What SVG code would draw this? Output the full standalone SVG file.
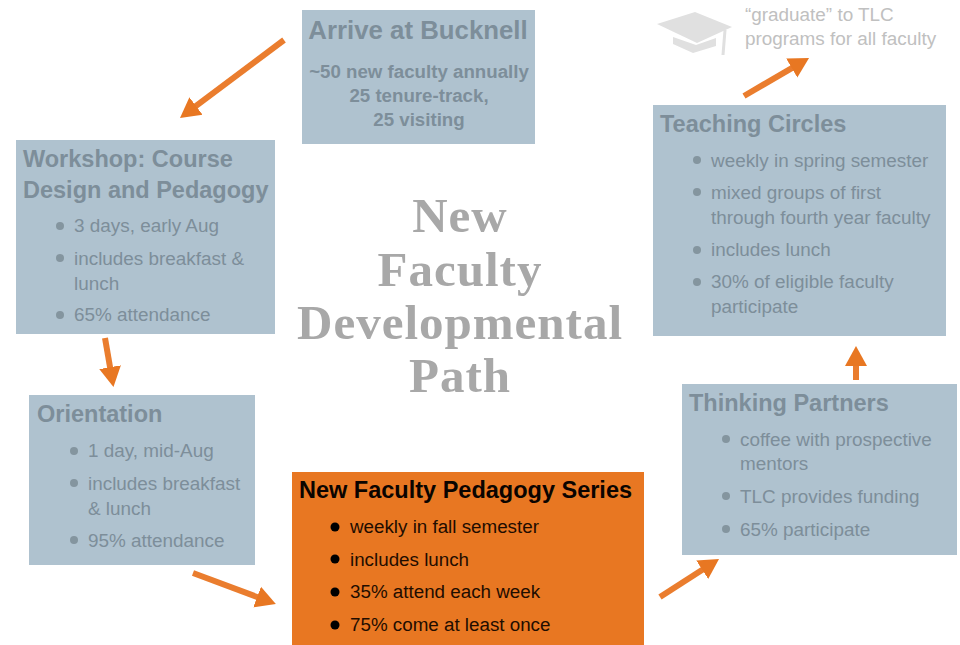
<svg xmlns="http://www.w3.org/2000/svg" width="960" height="645" viewBox="0 0 960 645">
<defs>
<marker id="ah" markerUnits="userSpaceOnUse" markerWidth="24" markerHeight="26" refX="2" refY="12" orient="auto"><path d="M0 1L20 12L0 23Z" fill="#e87722"/></marker>
</defs>
<style>
text{font-family:"Liberation Sans",Arial,sans-serif}
.box{fill:#afc2cf}
.hot{fill:#e87722}
.h{font-size:23.5px;font-weight:700;fill:#7d8e9a}
.t{font-size:18.9px;fill:#7d8e9a}
.d{fill:#84959f}
.hk{font-size:23.5px;font-weight:700;fill:#0a0400}
.tk{font-size:18.8px;fill:#1f0d00}
.c{stroke:#ea7d2e;stroke-width:6;fill:none;marker-end:url(#ah)}
.m{font-size:18.7px;font-weight:700;fill:#7d8e9a;text-anchor:middle}
.title{font-family:"Liberation Serif",serif;font-size:49px;letter-spacing:1px;font-weight:700;fill:#a8a8a8;text-anchor:middle}
.g{font-size:18.9px;fill:#c0c0c0}
</style>
<rect width="960" height="645" fill="#fff"/>
<g id="connectors">
<line class="c" x1="284" y1="40" x2="194.400" y2="107.200"/>
<line class="c" x1="105" y1="338" x2="110.400" y2="369.200"/>
<line class="c" x1="193" y1="573" x2="259" y2="597.700"/>
<line class="c" x1="660" y1="597" x2="703.900" y2="568.700"/>
<line class="c" x1="856" y1="380" x2="856" y2="364"/>
<line class="c" x1="744" y1="96" x2="793.500" y2="67.100"/>
</g>
<g id="title"><text class="title" x="460" y="232">New</text><text class="title" x="460" y="286">Faculty</text><text class="title" x="460" y="339">Developmental</text><text class="title" x="460" y="392">Path</text></g>
<g id="arrive"><rect class="box" x="302" y="10" width="233" height="134"/>
<text class="h" x="418" y="39" text-anchor="middle" style="font-size:25.800px">Arrive at Bucknell</text>
<text class="m" x="419" y="78">~50 new faculty annually</text><text class="m" x="419" y="102">25 tenure-track,</text><text class="m" x="419" y="126">25 visiting</text></g>
<g id="workshop"><rect class="box" x="16" y="140" width="259" height="194"/>
<text class="h" x="23" y="167">Workshop: Course</text><text class="h" x="23" y="198">Design and Pedagogy</text>
<circle class="d" cx="60" cy="226" r="4"/><text class="t" x="74" y="232">3 days, early Aug</text>
<circle class="d" cx="60" cy="258" r="4"/><text class="t" x="74" y="265">includes breakfast &amp;</text><text class="t" x="74" y="290">lunch</text>
<circle class="d" cx="60" cy="315" r="4"/><text class="t" x="74" y="321">65% attendance</text></g>
<g id="orientation"><rect class="box" x="29" y="395" width="226" height="170"/>
<text class="h" x="37" y="422">Orientation</text>
<circle class="d" cx="74" cy="451" r="4"/><text class="t" x="88" y="457">1 day, mid-Aug</text>
<circle class="d" cx="74" cy="483" r="4"/><text class="t" x="88" y="490">includes breakfast</text><text class="t" x="88" y="515">&amp; lunch</text>
<circle class="d" cx="74" cy="540" r="4"/><text class="t" x="88" y="547">95% attendance</text></g>
<g id="series"><rect class="hot" x="292" y="472" width="352" height="173"/>
<text class="hk" x="299" y="498">New Faculty Pedagogy Series</text>
<circle cx="335" cy="527" r="4.500"/><text class="tk" x="350" y="533">weekly in fall semester</text>
<circle cx="335" cy="559" r="4.500"/><text class="tk" x="350" y="566">includes lunch</text>
<circle cx="335" cy="592" r="4.500"/><text class="tk" x="350" y="598">35% attend each week</text>
<circle cx="335" cy="625" r="4.500"/><text class="tk" x="350" y="631">75% come at least once</text></g>
<g id="partners"><rect class="box" x="682" y="384" width="275" height="171"/>
<text class="h" x="689" y="411">Thinking Partners</text>
<circle class="d" cx="726" cy="439" r="4"/><text class="t" x="740" y="446">coffee with prospective</text><text class="t" x="740" y="470">mentors</text>
<circle class="d" cx="726" cy="496" r="4"/><text class="t" x="740" y="503">TLC provides funding</text>
<circle class="d" cx="726" cy="529" r="4"/><text class="t" x="740" y="536">65% participate</text></g>
<g id="circles"><rect class="box" x="653" y="105" width="293" height="231"/>
<text class="h" x="660" y="132">Teaching Circles</text>
<circle class="d" cx="697" cy="160" r="4"/><text class="t" x="711" y="167">weekly in spring semester</text>
<circle class="d" cx="697" cy="192" r="4"/><text class="t" x="711" y="199">mixed groups of first</text><text class="t" x="711" y="224">through fourth year faculty</text>
<circle class="d" cx="697" cy="250" r="4"/><text class="t" x="711" y="256">includes lunch</text>
<circle class="d" cx="697" cy="282" r="4"/><text class="t" x="711" y="288">30% of eligible faculty</text><text class="t" x="711" y="313">participate</text></g>
<g id="graduate">
<path d="M657 24L695 12L732 27L697 43Z" fill="#e0e0e0"/>
<path d="M673 37L696 45L716 38V46L693 53L673 44Z" fill="#e0e0e0"/>
<path d="M725 30Q724 42 723 55" fill="none" stroke="#e0e0e0" stroke-width="3"/>
<text class="g" x="745" y="21">“graduate” to TLC</text><text class="g" x="745" y="45">programs for all faculty</text></g>
</svg>
